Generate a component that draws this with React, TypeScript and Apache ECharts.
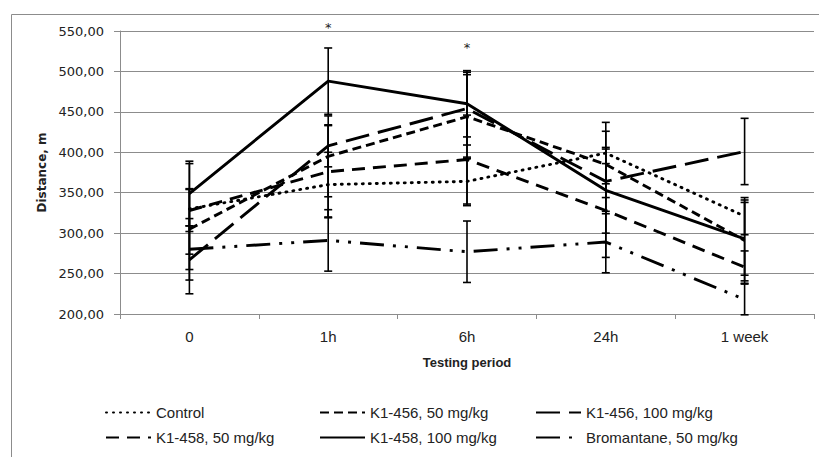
import React, { useEffect, useRef } from "react";
import * as echarts from "echarts";

const categories = ["0", "1h", "6h", "24h", "1 week"];
const yTicks = [200, 250, 300, 350, 400, 450, 500, 550];

const seriesNames = [
  "Control",
  "K1-456, 50 mg/kg",
  "K1-456, 100 mg/kg",
  "K1-458, 50 mg/kg",
  "K1-458, 100 mg/kg",
  "Bromantane, 50 mg/kg",
];

const control = [330, 360, 364, 399, 321];
const k456_50 = [305, 395, 444, 385, 291];
const k456_100 = [267, 408, 454, 364, 401];
const k458_50 = [328, 376, 391, 328, 258];
const k458_100 = [349, 488, 460, 353, 293];
const bromantane = [280, 291, 277, 289, 218];

const controlErr = [56, 40, 30, 38, 23];
const k456_50Err = [50, 50, 52, 41, 50];
const k456_100Err = [42, 26, 45, 40, 41];
const k458_50Err = [26, 57, 55, 58, 20];
const k458_100Err = [40, 41, 41, 53, 45];
const bromantaneErr = [38, 38, 38, 38, 19];

// significance marks: [category index, value height]
const asterisks = [
  [1, 554],
  [2, 530],
];

const values = [control, k456_50, k456_100, k458_50, k458_100, bromantane];
const errors = [controlErr, k456_50Err, k456_100Err, k458_50Err, k458_100Err, bromantaneErr];

const dashes: any[] = [
  [1, 6],
  [9, 5],
  [24, 9],
  [13, 8],
  "solid",
  [24, 9, 3, 9, 3, 9],
];
const caps = ["round", "butt", "butt", "butt", "butt", "butt"];

export default function App() {
  const ref = useRef<HTMLDivElement>(null);
  useEffect(() => {
    if (!ref.current) return;
    const chart = echarts.init(ref.current, null, { renderer: "svg" });
    const lineSeries = seriesNames.map((name, i) => ({
      name,
      type: "line",
      data: values[i],
      symbol: "none",
      showSymbol: false,
      z: 3,
      lineStyle: {
        color: "#000",
        width: 2.9,
        type: dashes[i],
        cap: caps[i],
      },
      itemStyle: { color: "#000" },
    }));
    const errSeries = seriesNames.map((name, i) => ({
      name: name + " error",
      type: "custom",
      z: 4,
      data: values[i].map((v, j) => [j, v - errors[i][j], v + errors[i][j]]),
      renderItem: (params: any, api: any) => {
        const x = api.value(0);
        const lo = api.coord([x, api.value(1)]);
        const hi = api.coord([x, api.value(2)]);
        const hw = 4;
        const st = { stroke: "#000", lineWidth: 1.6 };
        return {
          type: "group",
          children: [
            { type: "line", shape: { x1: lo[0], y1: lo[1], x2: hi[0], y2: hi[1] }, style: st },
            { type: "line", shape: { x1: lo[0] - hw, y1: lo[1], x2: lo[0] + hw, y2: lo[1] }, style: st },
            { type: "line", shape: { x1: hi[0] - hw, y1: hi[1], x2: hi[0] + hw, y2: hi[1] }, style: st },
          ],
        };
      },
    }));
    const legendText = {
      fontFamily: "'Liberation Sans', Arial, sans-serif",
      fontSize: 15,
      color: "#222",
    };
    const legendBase = {
      orient: "vertical",
      top: 400,
      itemWidth: 45,
      itemHeight: 14,
      itemGap: 10,
      textStyle: legendText,
      selectedMode: false,
      itemStyle: { opacity: 0 },
    };
    chart.setOption({
      animation: false,
      backgroundColor: "#fff",
      graphic: [
        {
          type: "rect",
          left: 9,
          top: 12,
          shape: { width: 830, height: 470 },
          style: { fill: "none", stroke: "#8c8c8c", lineWidth: 1 },
          silent: true,
        },
      ],
      grid: { left: 120, right: 5, top: 31, bottom: 143 },
      legend: [
        { ...legendBase, left: 100, data: [seriesNames[0], seriesNames[3]] },
        { ...legendBase, left: 314, data: [seriesNames[1], seriesNames[4]] },
        { ...legendBase, left: 530, data: [seriesNames[2], seriesNames[5]] },
      ],
      xAxis: {
        type: "category",
        data: categories,
        boundaryGap: true,
        name: "Testing period",
        nameLocation: "middle",
        nameGap: 42,
        nameTextStyle: {
          fontFamily: "'Liberation Sans', Arial, sans-serif",
          fontWeight: "bold",
          fontSize: 13,
          color: "#222",
        },
        axisLine: { lineStyle: { color: "#8c8c8c", width: 1 } },
        axisTick: { show: true, length: 5, lineStyle: { color: "#8c8c8c" } },
        axisLabel: {
          margin: 15,
          fontFamily: "'Liberation Sans', Arial, sans-serif",
          fontSize: 15,
          color: "#222",
        },
      },
      yAxis: {
        type: "value",
        min: yTicks[0],
        max: yTicks[yTicks.length - 1],
        interval: 50,
        name: "Distance, m",
        nameLocation: "middle",
        nameGap: 72,
        nameTextStyle: {
          fontFamily: "'DejaVu Sans', sans-serif",
          fontWeight: "bold",
          fontSize: 12,
          color: "#222",
        },
        axisLine: { show: true, lineStyle: { color: "#8c8c8c", width: 1 } },
        axisTick: { show: true, length: 6, lineStyle: { color: "#8c8c8c" } },
        axisLabel: {
          margin: 16,
          fontFamily: "'DejaVu Sans', sans-serif",
          fontSize: 13,
          color: "#222",
          formatter: (v: number) => v.toFixed(2).replace(".", ","),
        },
        splitLine: { show: true, lineStyle: { color: "#8c8c8c", width: 1 } },
      },
      series: [
        ...lineSeries,
        ...errSeries,
        {
          name: "sig",
          type: "custom",
          data: asterisks,
          clip: false,
          silent: true,
          z: 5,
          renderItem: (params: any, api: any) => {
            const p = api.coord([api.value(0), api.value(1)]);
            return {
              type: "text",
              x: p[0],
              y: p[1],
              style: {
                text: "*",
                fill: "#222",
                font: "13px 'DejaVu Sans', sans-serif",
                align: "center",
                verticalAlign: "middle",
              },
            };
          },
        },
      ],
    });
    return () => chart.dispose();
  }, []);
  return (
    <div
      ref={ref}
      style={{ position: "fixed", left: 0, top: 0, width: 819, height: 457 }}
    />
  );
}
